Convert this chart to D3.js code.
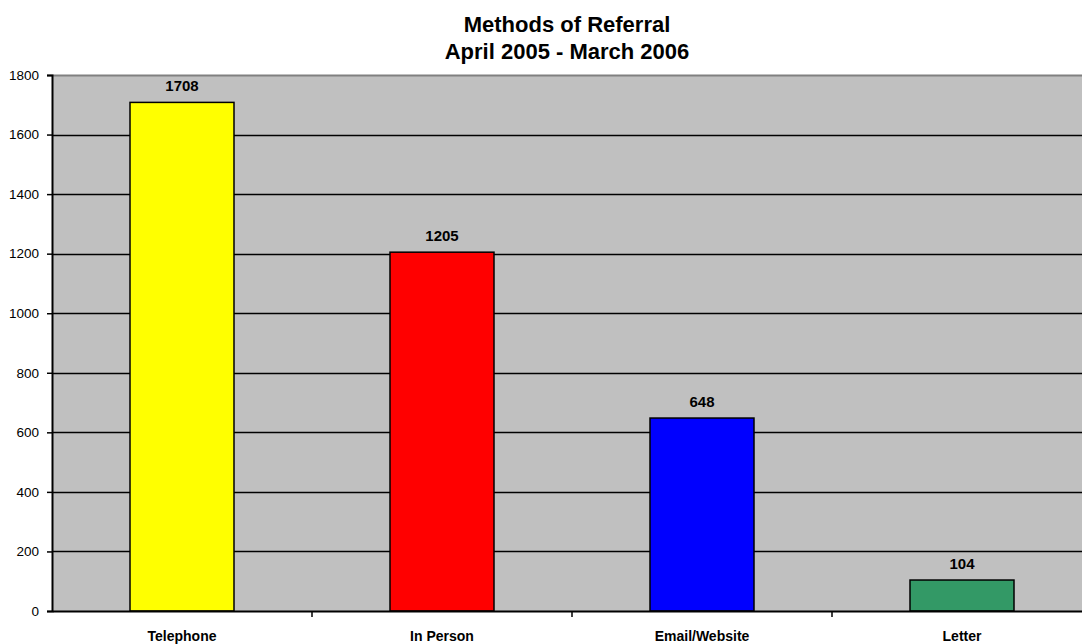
<!DOCTYPE html>
<html>
<head>
<meta charset="utf-8">
<script src="https://cdn.jsdelivr.net/npm/d3@7"></script>
<style>
  body { margin: 0; background: #fff; overflow: hidden; }
  svg { display: block; font-family: "Liberation Sans", Arial, sans-serif; }
</style>
</head>
<body>
<div id="chart"></div>
<script>
const categories = ["Telephone", "In Person", "Email/Website", "Letter"];
const referrals = [1708, 1205, 648, 104];
const barColors = ["#ffff00", "#ff0000", "#0000ff", "#339966"];
const yTicks = [0, 200, 400, 600, 800, 1000, 1200, 1400, 1600, 1800];

const W = 1082, H = 644;
const margin = { top: 75, right: -10, bottom: 33, left: 52 };
const width = W - margin.left - margin.right;
const height = H - margin.top - margin.bottom;

const svg = d3.select("#chart").append("svg")
  .attr("width", W)
  .attr("height", H);

// title, two lines
svg.append("text")
  .attr("x", 567).attr("y", 32)
  .attr("text-anchor", "middle")
  .style("font-size", "22px").style("font-weight", "bold")
  .text("Methods of Referral");
svg.append("text")
  .attr("x", 567).attr("y", 59)
  .attr("text-anchor", "middle")
  .style("font-size", "22px").style("font-weight", "bold")
  .text("April 2005 - March 2006");

const g = svg.append("g").attr("transform", `translate(${margin.left},${margin.top})`);

const x = d3.scaleBand().domain(categories).range([0, width]).paddingInner(0.6).paddingOuter(0.3);
const xOuter = d3.scaleBand().domain(categories).range([0, width]);
const y = d3.scaleLinear().domain([0, 1800]).range([height, 0]);

g.append("rect")
  .attr("width", width).attr("height", height)
  .attr("fill", "#c0c0c0");

g.append("line")
  .attr("x1", 0).attr("x2", width).attr("y1", 0.5).attr("y2", 0.5)
  .attr("stroke", "#808080").attr("stroke-width", 2);

// gridlines
g.append("g")
  .selectAll("line")
  .data(yTicks.filter(d => d > 0 && d < 1800))
  .join("line")
  .attr("x1", 0).attr("x2", width)
  .attr("y1", d => Math.round(y(d)) + 0.5).attr("y2", d => Math.round(y(d)) + 0.5)
  .attr("stroke", "#000").attr("stroke-width", 1.3);

// bars
g.selectAll("rect.bar")
  .data(referrals)
  .join("rect")
  .attr("class", "bar")
  .attr("x", (d, i) => x(categories[i]))
  .attr("y", d => y(d))
  .attr("width", x.bandwidth())
  .attr("height", d => height - y(d))
  .attr("fill", (d, i) => barColors[i])
  .attr("stroke", "#000").attr("stroke-width", 1.5);

// value labels
g.selectAll("text.val")
  .data(referrals)
  .join("text")
  .attr("class", "val")
  .attr("x", (d, i) => x(categories[i]) + x.bandwidth() / 2)
  .attr("y", d => y(d) - 11)
  .attr("text-anchor", "middle")
  .style("font-size", "15px").style("font-weight", "bold")
  .text(d => d);

// y axis
const yAxis = g.append("g")
  .call(d3.axisLeft(y).tickValues(yTicks).tickFormat(d3.format("d")).tickSize(5).tickPadding(8));
yAxis.select(".domain").attr("stroke", "#000").attr("stroke-width", 2);
yAxis.selectAll(".tick line").attr("stroke-width", 1.5);
yAxis.selectAll(".tick text").style("font-size", "13.5px").attr("fill", "#000");

// x axis
const xAxis = g.append("g")
  .attr("transform", `translate(0,${height})`)
  .call(d3.axisBottom(xOuter).tickSize(0).tickPadding(20));
xAxis.select(".domain").attr("stroke", "#000").attr("stroke-width", 2);
xAxis.selectAll(".tick text").style("font-size", "14px").style("font-weight", "bold").attr("fill", "#000");
xAxis.selectAll("line.sep")
  .data(categories.slice(1))
  .join("line")
  .attr("class", "sep")
  .attr("x1", d => xOuter(d)).attr("x2", d => xOuter(d))
  .attr("y1", 0).attr("y2", 6)
  .attr("stroke", "#000").attr("stroke-width", 1.5);
</script>
</body>
</html>
